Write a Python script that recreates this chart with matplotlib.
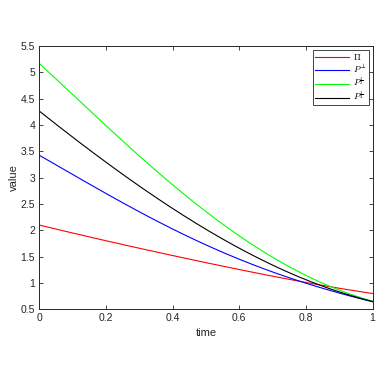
import numpy as np
import matplotlib.pyplot as plt

# values at t = 0, 0.1, ..., 1
time = [0.0, 0.1, 0.2, 0.3, 0.4, 0.5, 0.6, 0.7, 0.8, 0.9, 1.0]
pi_vals = [2.10, 1.95, 1.80, 1.66, 1.52, 1.39, 1.25, 1.13, 1.01, 0.90, 0.80]
p_perp = [3.43, 3.05, 2.70, 2.36, 2.03, 1.72, 1.44, 1.21, 1.00, 0.81, 0.64]
p_half = [5.18, 4.56, 3.98, 3.42, 2.89, 2.36, 1.87, 1.47, 1.15, 0.89, 0.64]
p_quarter = [4.27, 3.76, 3.29, 2.84, 2.43, 2.03, 1.64, 1.33, 1.06, 0.85, 0.64]

labels = [r'$\Pi$', r'$P^{\perp}$', r'$P^{\frac{1}{2}}$', r'$P^{\frac{1}{4}}$']

plt.rcParams['mathtext.fontset'] = 'cm'
plt.rcParams['font.family'] = 'Liberation Sans'


def smooth(x, y):
    # low order fit through the read points, just for a smooth curve
    xs = np.linspace(x[0], x[-1], 200)
    c = np.polyfit(x, y, 4)
    return xs, np.polyval(c, xs)


fig = plt.figure(figsize=(3.8, 3.79), dpi=100)
ax = fig.add_axes([0.1034, 0.1839, 0.8772, 0.6947])

for ys, col, lab in zip([pi_vals, p_perp, p_half, p_quarter],
                        ['#ff0000', '#0000ff', '#00ff00', '#000000'], labels):
    xs, yy = smooth(time, ys)
    ax.plot(xs, yy, color=col, lw=0.8, label=lab)

ax.set_xlim(0, 1)
ax.set_ylim(0.5, 5.5)
ax.set_xticks(np.arange(0, 1.01, 0.2))
ax.set_xticklabels(['0', '0.2', '0.4', '0.6', '0.8', '1'])
ax.set_yticks(np.arange(0.5, 5.51, 0.5))
ax.set_yticklabels(['0.5', '1', '1.5', '2', '2.5', '3', '3.5', '4', '4.5', '5', '5.5'])
ax.tick_params(direction='in', top=True, right=True, labelsize=7.5,
               length=3, width=0.6, colors='#262626', labelcolor='#262626', pad=3)
for s in ax.spines.values():
    s.set_linewidth(0.7)
    s.set_color('#262626')

ax.set_xlabel('time', fontsize=8, color='#262626', labelpad=3)
ax.set_ylabel('value', fontsize=8, color='#262626', labelpad=1)

leg = ax.legend(loc='upper right', fontsize=6.5, handlelength=3.8,
                fancybox=False, framealpha=1, edgecolor='#262626',
                borderpad=0.25, labelspacing=0.1, handletextpad=0.4,
                borderaxespad=0.4)
leg.get_frame().set_linewidth(0.6)

fig.savefig('out.png', dpi=100)
